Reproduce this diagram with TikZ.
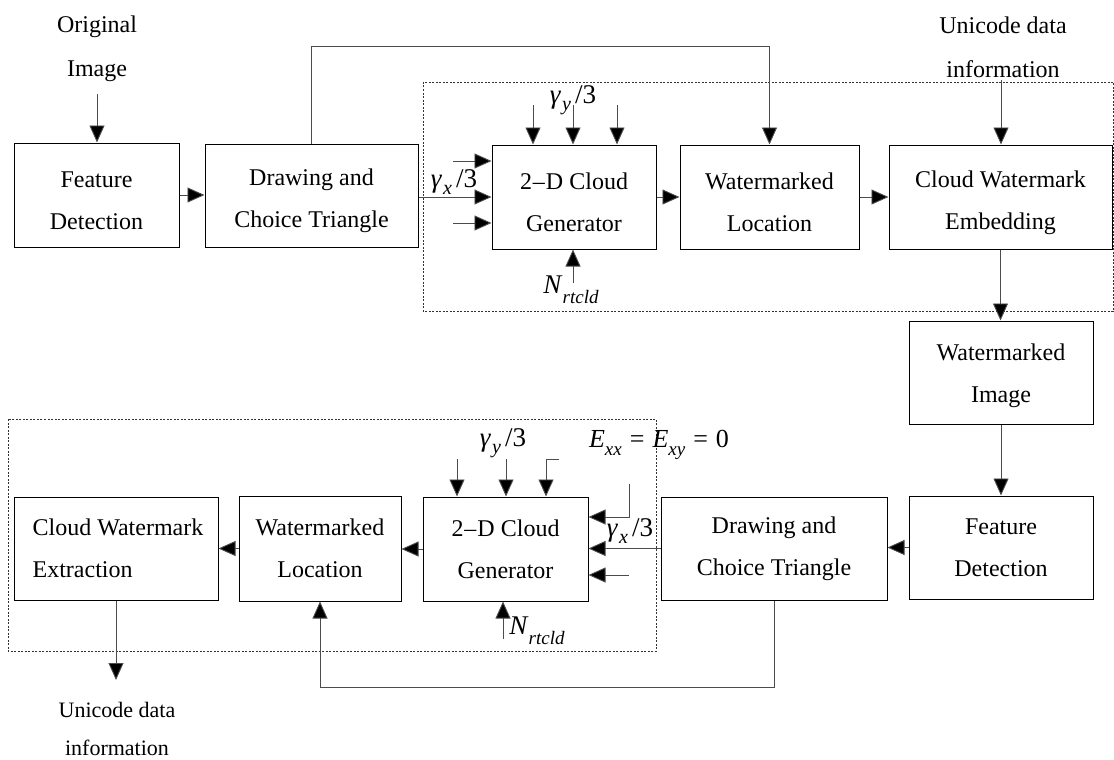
\documentclass[tikz,border=0pt]{standalone}
\usepackage{fontspec}
\setmainfont{Liberation Serif}
\usetikzlibrary{arrows.meta}
\newcommand{\mygam}[1]{{\fontsize{27}{27}\selectfont\textit{γ}\kern1pt\raisebox{-0.25em}{\fontsize{20}{20}\selectfont\textit{#1}}\kern4pt/3}}
\newcommand{\myN}{{\fontsize{27}{27}\selectfont\textit{N}\raisebox{-0.38em}{\fontsize{19}{19}\selectfont\textit{rtcld}}}}
\newcommand{\myE}{{\fontsize{26}{26}\selectfont\textit{E}\raisebox{-0.3em}{\fontsize{19}{19}\selectfont\textit{xx}}\kern8pt=\kern8pt\textit{E}\raisebox{-0.3em}{\fontsize{19}{19}\selectfont\textit{xy}}\kern8pt=\kern8pt0}}
\newcommand{\twoD}{2\kern1pt–\kern1ptD}
\newcommand{\tstr}{\rule{0pt}{28pt}}
\newcommand{\istr}{\rule{0pt}{23pt}}
\begin{document}
\begin{tikzpicture}[x=1pt,y=-1pt,
  box/.style={draw=black, line width=1pt, inner sep=0pt, align=center, font=\fontsize{24}{42}\selectfont},
  arr/.style={draw=black!70, line width=0.9pt, -{Triangle[length=17pt,width=15pt,fill=black]}},
  dbox/.style={draw=black!80, line width=0.9pt, dash pattern=on 2pt off 1.5pt},
  lbl/.style={inner sep=0pt, align=center, font=\fontsize{24}{44}\selectfont},
  mlbl/.style={inner sep=0pt}]
\useasboundingbox (0,0) rectangle (1114,760);

% dashed regions
\draw[dbox] (423,82) rectangle (1113,311);
\draw[dbox] (8,419) rectangle (656,651);

% top row boxes
\node[box, minimum width=165pt, minimum height=104pt] (fd1) at (96.5,195) {\tstr Feature\\Detection};
\node[box, minimum width=213pt, minimum height=103pt] (dc1) at (311.5,195.5) {\tstr Drawing and\\Choice Triangle};
\node[box, minimum width=164pt, minimum height=104pt] (cg1) at (574,197) {\tstr\twoD{} Cloud\\Generator};
\node[box, minimum width=179pt, minimum height=104pt] (wl1) at (769.5,197) {\tstr Watermarked\\Location};
\node[box, minimum width=223pt, minimum height=104pt] (ce) at (1000.5,197) {\tstr Cloud Watermark\\Embedding};
\node[box, minimum width=184pt, minimum height=103pt] (wi) at (1001,372.5) {\istr Watermarked\\Image};

% bottom row boxes
\node[box, minimum width=184pt, minimum height=103pt] (fd2) at (1001,547.5) {Feature\\Detection};
\node[box, minimum width=226pt, minimum height=103pt] (dc2) at (774,548.5) {Drawing and\\Choice Triangle};
\node[box, minimum width=165pt, minimum height=104pt] (cg2) at (505.5,549) {\twoD{} Cloud\\Generator};
\node[box, minimum width=162pt, minimum height=105pt] (wl2) at (320,548.5) {Watermarked\\Location};
\node[box, minimum width=204pt, minimum height=103pt, align=left] (cx) at (116,548.5) {\kern4pt Cloud Watermark\\\kern4pt Extraction};

% free labels
\node[lbl] (orig) at (97,49) {Original\\Image};
\node[lbl] (uni1) at (1003,47) {Unicode data\\information};
\node[lbl, font=\fontsize{22}{38}\selectfont] (uni2) at (117,729) {Unicode data\\information};

\node[mlbl] (gy1) at (573,100) {\mygam{y}};
\node[mlbl] (gx1) at (454,182) {\mygam{x}};
\node[mlbl] (nr1) at (571,290) {\myN};
\node[mlbl] (gy2) at (503,443) {\mygam{y}};
\node[mlbl] (gx2) at (630,531) {\mygam{x}};
\node[mlbl] (nr2) at (537,631) {\myN};
\node[mlbl] (exy) at (659,445) {\myE};

% coordinates for free ends
\coordinate (o1) at (97,94);
\coordinate (u1) at (1001,80);
\coordinate (a1) at (453,161);
\coordinate (a3) at (453,223);
\coordinate (b1) at (533,105);
\coordinate (b2) at (573,105);
\coordinate (b3) at (617,105);
\coordinate (n1) at (573,283);
\coordinate (e1) at (629,484);
\coordinate (e3) at (629,575);
\coordinate (c1) at (457,459);
\coordinate (c2) at (506,459);
\coordinate (c3) at (559,459);
\coordinate (n2) at (503,639);
\coordinate (u2) at (117,680);

% top connectors
\draw[arr] (o1) -- (o1 |- fd1.north);
\draw[arr] (fd1.east) -- (fd1.east -| dc1.west);
\draw[arr] (dc1.north) -- ++(0,-97) -| (wl1.north);
\draw[arr] (dc1.east |- cg1.west) -- (cg1.west);
\draw[arr] (a1) -- (a1 -| cg1.west);
\draw[arr] (a3) -- (a3 -| cg1.west);
\draw[arr] (b1) -- (b1 |- cg1.north);
\draw[arr] (b2) -- (b2 |- cg1.north);
\draw[arr] (b3) -- (b3 |- cg1.north);
\draw[arr] (n1) -- (n1 |- cg1.south);
\draw[arr] (cg1.east) -- (wl1.west);
\draw[arr] (wl1.east) -- (ce.west);
\draw[arr] (u1) -- (u1 |- ce.north);
\draw[arr] (ce.south) -- (ce.south |- wi.north);
\draw[arr] (wi.south) -- (wi.south |- fd2.north);

% bottom connectors
\draw[arr] (fd2.west) -- (fd2.west -| dc2.east);
\draw[arr] (dc2.west) -- (dc2.west -| cg2.east);
\draw[arr] (e1) |- ([yshift=32pt]cg2.east);
\draw[arr] (e3) -- (e3 -| cg2.east);
\draw[arr] (c1) -- (c1 |- cg2.north);
\draw[arr] (c2) -- (c2 |- cg2.north);
\draw[arr] (c3) -| ([xshift=40.5pt]cg2.north);
\draw[arr] (n2) -- (n2 |- cg2.south);
\draw[arr] (cg2.west) -- (cg2.west -| wl2.east);
\draw[arr] (wl2.west) -- (wl2.west -| cx.east);
\draw[arr] (cx.south) -- (cx.south |- u2);
\draw[arr] (dc2.south) -- ++(0,87) -| (wl2.south);
\end{tikzpicture}
\end{document}
